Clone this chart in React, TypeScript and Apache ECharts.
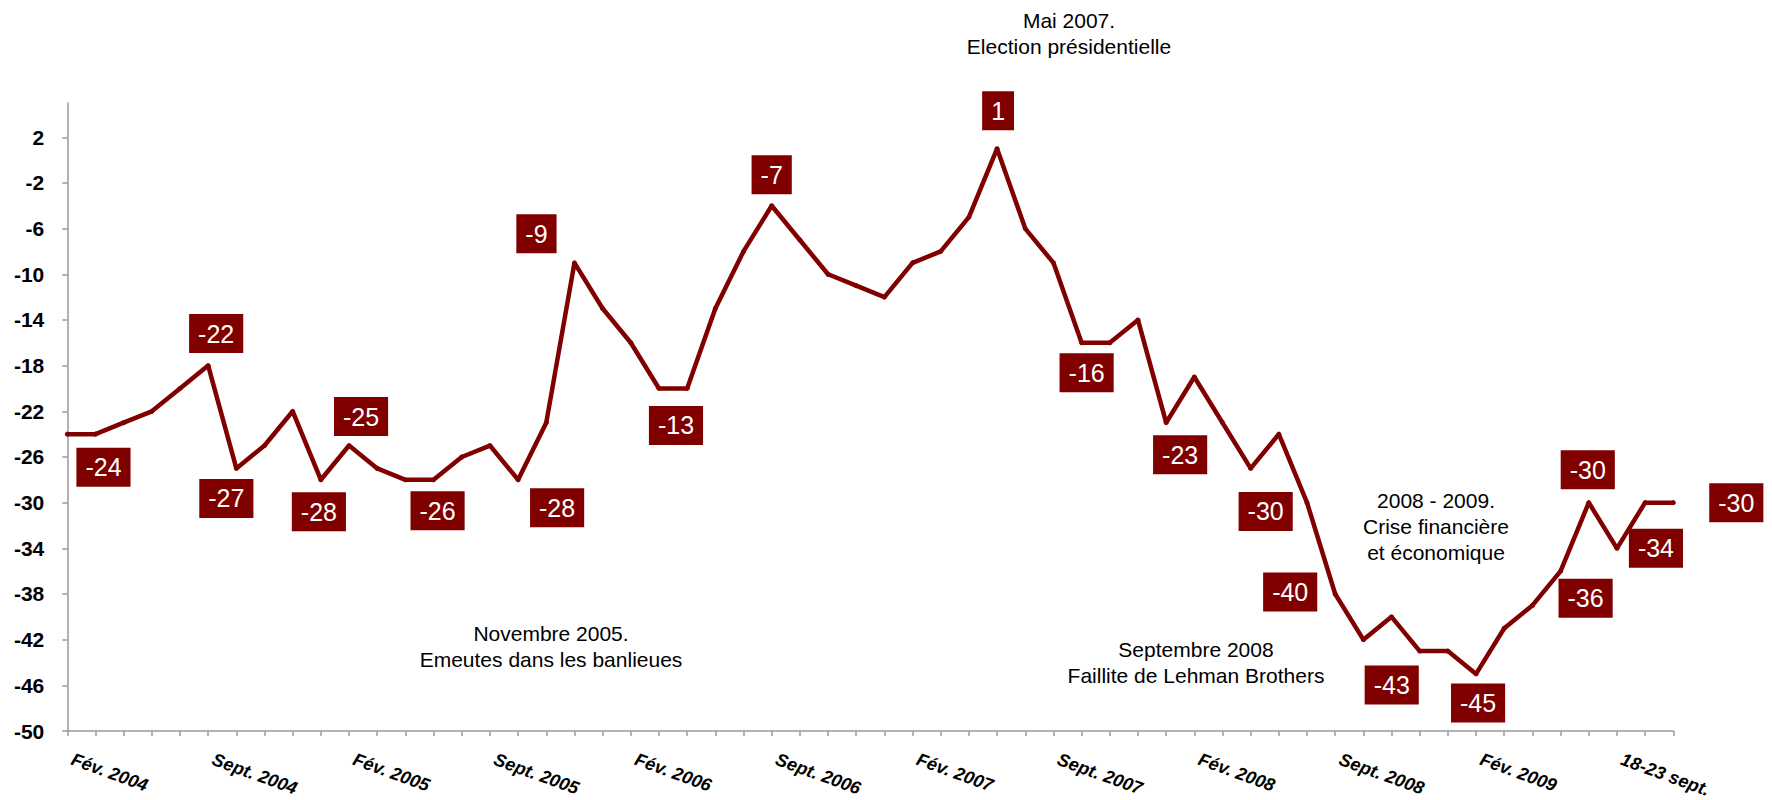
import React, { useEffect, useRef } from "react";
import * as echarts from "echarts";

// ---- data ----
const values: number[] = [
  -24, -24, -23, -22, -20, -18, -27, -25, -22, -28,
  -25, -27, -28, -28, -26, -25, -28, -23, -9, -13,
  -16, -20, -20, -13, -8, -4, -7, -10, -11, -12,
  -9, -8, -5, 1, -6, -9, -16, -16, -14, -23,
  -19, -23, -27, -24, -30, -38, -42, -40, -43, -43,
  -45, -41, -39, -36, -30, -34, -30, -30,
];
const categories: string[] = values.map((_, i) => `Vague ${i + 1}`);
const xTickLabels: string[] = [
  "Fév. 2004", "Sept. 2004", "Fév. 2005", "Sept. 2005", "Fév. 2006", "Sept. 2006",
  "Fév. 2007", "Sept. 2007", "Fév. 2008", "Sept. 2008", "Fév. 2009", "18-23 sept.",
];
const xTickStep = 5;
const yTicks: number[] = [-50, -46, -42, -38, -34, -30, -26, -22, -18, -14, -10, -6, -2, 2];

// data labels (as printed on the chart)
const labelIndex: number[] = [1, 5, 6, 9, 10, 13, 16, 18, 21, 25, 33, 36, 39, 42, 45, 48, 50, 53, 54, 55, 57];
const labelText: string[] = ["-24", "-22", "-27", "-28", "-25", "-26", "-28", "-9", "-13", "-7", "1", "-16", "-23", "-30", "-40", "-43", "-45", "-36", "-30", "-34", "-30"];

// ---- layout / style ----
const labelOffset: number[][] = [
  [8, 33], [8, -32], [-10, 30], [-2, 32], [12, -29], [4, 31], [39, 28], [-38, -29], [17, 37], [0, -31],
  [1, -38], [5, 30], [14, 32], [15, 43], [-45, -2], [-28, 34], [2, 29], [25, 27], [-1, -33], [39, 0], [63, 0],
];
const RED = "#800000";
const GREY = "#9a9a9a";
const FONT = "'Liberation Sans', Arial, sans-serif";

const annotations = [
  { text: "Mai 2007.\nElection présidentielle", x: 1069, y: 33 },
  { text: "Novembre 2005.\nEmeutes dans les banlieues", x: 551, y: 646 },
  { text: "Septembre 2008\nFaillite de Lehman Brothers", x: 1196, y: 662 },
  { text: "2008 - 2009.\nCrise financière\net économique", x: 1436, y: 526 },
];

export default function App() {
  const ref = useRef<HTMLDivElement>(null);
  useEffect(() => {
    if (!ref.current) return;
    const chart = echarts.init(ref.current, null, { renderer: "svg" });
    const seriesData = values.map((v, i) => {
      const k = labelIndex.indexOf(i);
      if (k < 0) return v;
      return {
        value: v,
        label: {
          show: true,
          formatter: labelText[k],
          position: "inside",
          offset: labelOffset[k],
          backgroundColor: RED,
          color: "#fff",
          fontFamily: FONT,
          fontSize: 25,
          lineHeight: 25,
          padding: [7, 9, 7, 9],
        },
      };
    });
    chart.setOption({
      animation: false,
      backgroundColor: "#fff",
      grid: { left: 67.3, right: 98.7, top: 103, bottom: 69, containLabel: false, outerBoundsMode: "none" },
      xAxis: {
        type: "category",
        data: categories,
        boundaryGap: false,
        axisLine: { show: true, onZero: false, lineStyle: { color: GREY, width: 1.5 } },
        axisTick: { show: true, interval: 0, length: 5, lineStyle: { color: GREY, width: 1.5 } },
        axisLabel: {
          interval: xTickStep - 1,
          rotate: -20,
          margin: 26,
          padding: [0, 0, 0, 5],
          lineHeight: 18,
          color: "#000",
          fontFamily: FONT,
          fontSize: 18,
          fontWeight: "bold",
          fontStyle: "italic",
          formatter: (_v: string, i: number) => (i % xTickStep === 0 ? xTickLabels[i / xTickStep] ?? "" : ""),
        },
        splitLine: { show: false },
      },
      yAxis: {
        type: "value",
        min: -50,
        max: 5,
        axisLine: { show: true, lineStyle: { color: GREY, width: 1.5 } },
        axisTick: { show: true, length: 5, customValues: yTicks, lineStyle: { color: GREY, width: 1.5 } },
        axisLabel: {
          customValues: yTicks,
          margin: 23,
          color: "#000",
          fontFamily: FONT,
          fontSize: 21,
          fontWeight: "bold",
        },
        splitLine: { show: false },
      },
      series: [
        {
          type: "line",
          data: seriesData,
          symbol: "circle",
          symbolSize: 5,
          showSymbol: true,
          itemStyle: { color: RED },
          lineStyle: { color: RED, width: 4.5 },
          label: { show: false },
          emphasis: { disabled: true },
          z: 3,
        },
      ],
      graphic: annotations.map((a) => ({
        type: "text",
        x: a.x,
        y: a.y,
        style: {
          text: a.text,
          textAlign: "center",
          textVerticalAlign: "middle",
          fontFamily: FONT,
          fontSize: 21,
          lineHeight: 26,
          fill: "#000",
        },
      })),
    });
    return () => chart.dispose();
  }, []);
  return (
    <div
      ref={ref}
      style={{ position: "fixed", left: 0, top: 0, width: "1772px", height: "800px", background: "#fff" }}
    />
  );
}
